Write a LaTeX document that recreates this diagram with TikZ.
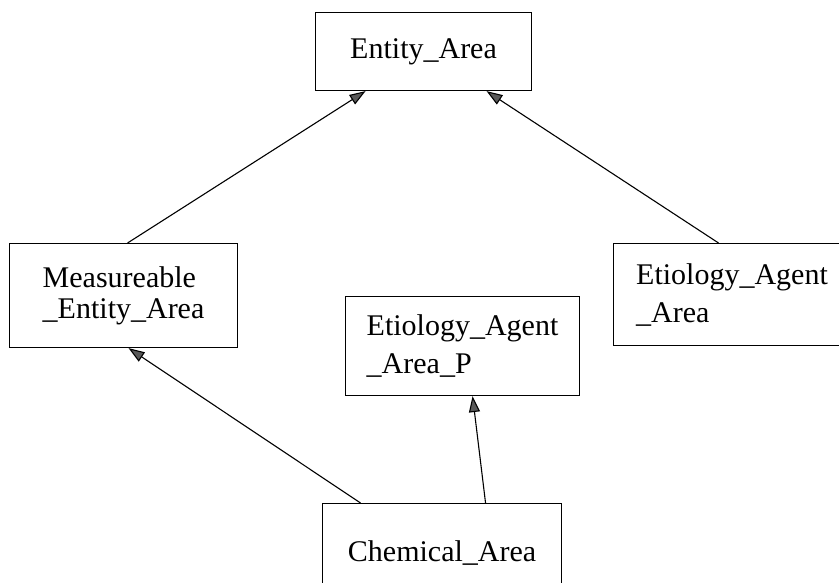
\documentclass[tikz,border=0pt]{standalone}
\usepackage{fontspec}
\setmainfont{Liberation Serif}
\usetikzlibrary{arrows.meta}
\begin{document}
\begin{tikzpicture}[x=1pt,y=-1pt,
  box/.style={draw, line width=1.1pt, inner sep=0pt, anchor=north west,
    align=left, font=\fontsize{30}{38}\selectfont},
  isa/.style={line width=1.1pt,
    -{Triangle[length=16pt,width=11pt,fill=gray!70!black]}}]
\useasboundingbox (0,0) rectangle (839,582);
\begin{scope}
\clip (0,0) rectangle (839,582);
% class boxes
\node[box, minimum width=216pt, minimum height=78pt] (ent) at (315,12) {Entity\_Area};
\node[box, minimum width=228pt, minimum height=104pt,
      font=\fontsize{30}{31}\selectfont] (meas) at (9,243) {Measureable\\\_Entity\_Area};
\node[box, minimum width=237pt, minimum height=102pt] (etio) at (613,243) {Etiology\_Agent\\\_Area};
\node[box, minimum width=234pt, minimum height=99pt] (etiop) at (345,296) {Etiology\_Agent\\\_Area\_P};
\node[box, minimum width=239pt, minimum height=98pt] (chem) at (322,503) {Chemical\_Area};
% generalisation links
\draw[isa] ([xshift=4pt]meas.north) -- ([xshift=-58pt]ent.south);
\draw[isa] ([xshift=-13.5pt]etio.north) -- ([xshift=63pt]ent.south);
\draw[isa] ([xshift=-81.5pt]chem.north) -- ([xshift=5pt]meas.south);
\draw[isa] ([xshift=43.5pt]chem.north) -- ([xshift=10pt]etiop.south);
\end{scope}
\end{tikzpicture}
\end{document}
